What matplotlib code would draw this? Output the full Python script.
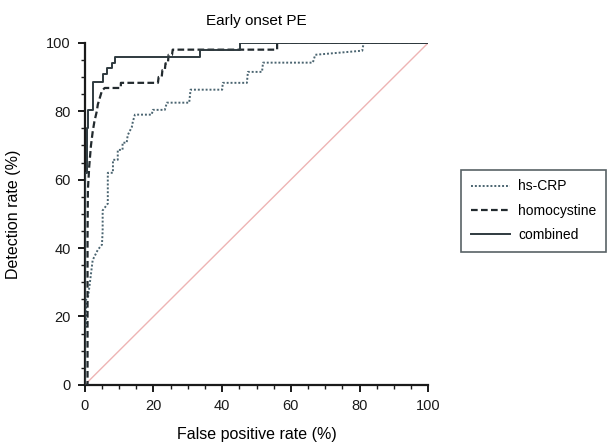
import matplotlib
matplotlib.use("Agg")
import matplotlib.pyplot as plt
from matplotlib.ticker import MultipleLocator

plt.rcParams['font.family'] = ['Liberation Sans', 'DejaVu Sans']

# ROC step curves (false positive rate %, detection rate %)
crp_fpr = [0, 0, 0.4, 0.4, 1.0, 1.5, 2.3, 3.8, 5.0, 5.2, 5.2, 6.7, 6.7, 8.2, 8.2, 9.6, 9.6, 11.0, 11.0, 12.2, 12.5, 13.7, 14.0, 14.6,
           19.5, 19.8, 23.3, 23.9, 30.4, 30.8, 40.0, 40.2, 47.2, 47.5, 51.6, 51.9, 66.4, 67.1, 80.8, 81.2, 100]
crp_tpr = [0, 17, 17, 25, 26, 30, 36.5, 39.5, 41, 45, 51, 53, 62, 62, 65.8, 65.8, 68.7, 68.7, 70.8, 70.8, 73, 75.4, 77, 79,
           79, 80.4, 80.4, 82.5, 82.5, 86.3, 86.3, 88.3, 88.3, 91.5, 91.5, 94.2, 94.2, 96.5, 97.7, 100, 100]

hcy_fpr = [0, 0.8, 0.8, 0.9, 1.3, 1.8, 2.3, 2.8, 3.5, 3.8, 4.4, 5.0, 5.8, 10.5, 10.5, 21.3, 21.5, 22.4, 22.6, 23.3, 23.5, 24.2, 24.4, 25.4, 25.6,
           56.0, 56.0, 100]
hcy_tpr = [0, 0, 43, 57, 64, 70, 74, 77, 80, 82, 84, 86, 86.8, 86.8, 88.3, 88.3, 90, 90, 92, 92, 94, 94, 96.5, 96.5, 98,
           98, 100, 100]

comb_fpr = [0, 0, 0.5, 0.5, 0.9, 0.9, 2.3, 2.3, 5.2, 5.2, 6.4, 6.4, 7.9, 7.9, 8.7, 8.7, 33.5, 33.5, 45.2, 45.2, 100]
comb_tpr = [0, 62, 62, 75, 75, 80.4, 80.4, 88.6, 88.6, 91, 91, 92.7, 92.7, 94, 94, 95.9, 95.9, 97.9, 97.9, 100, 100]

ref_line = [0, 100]

fig = plt.figure(figsize=(6.1, 4.46), dpi=100)
ax = fig.add_axes([0.139, 0.137, 0.563, 0.767])

ax.plot(ref_line, ref_line, color='#eeb4b4', lw=1.0, zorder=1)
l1, = ax.plot(crp_fpr, crp_tpr, color='#4a6470', lw=1.4, linestyle=(0, (1, 1)), zorder=2, label='hs-CRP')
l2, = ax.plot(hcy_fpr, hcy_tpr, color='#222a2e', lw=1.6, linestyle=(0, (3, 1.5)), zorder=3, label='homocystine')
l3, = ax.plot(comb_fpr, comb_tpr, color='#2f3a3f', lw=1.4, linestyle='-', zorder=4, label='combined')

ax.set_xlim(0, 100)
ax.set_ylim(0, 100)
ax.xaxis.set_major_locator(MultipleLocator(20))
ax.yaxis.set_major_locator(MultipleLocator(20))
ax.xaxis.set_minor_locator(MultipleLocator(5))
ax.yaxis.set_minor_locator(MultipleLocator(5))
for s in ['top', 'right']:
    ax.spines[s].set_visible(False)
for s in ['left', 'bottom']:
    ax.spines[s].set_linewidth(1.6)
    ax.spines[s].set_color('#1a1a1a')
ax.tick_params(which='major', direction='out', length=5, width=1.4, labelsize=10.5, colors='#1a1a1a', pad=5)
ax.tick_params(which='minor', direction='out', length=3, width=1.0, colors='#1a1a1a')

ax.set_xlabel('False positive rate (%)', fontsize=11.5, labelpad=10)
ax.set_ylabel('Detection rate (%)', fontsize=11.5, labelpad=18)
ax.set_title('Early onset PE', fontsize=11, pad=13)

leg = fig.legend(handles=[l1, l2, l3], loc='upper left', bbox_to_anchor=(0.745, 0.635),
                 frameon=True, fancybox=False, fontsize=10, handlelength=2.8,
                 borderpad=0.7, labelspacing=0.75, handletextpad=0.6, edgecolor='#2f3a3f')
leg.get_frame().set_linewidth(1.2)

fig.savefig('out.png', dpi=100)
